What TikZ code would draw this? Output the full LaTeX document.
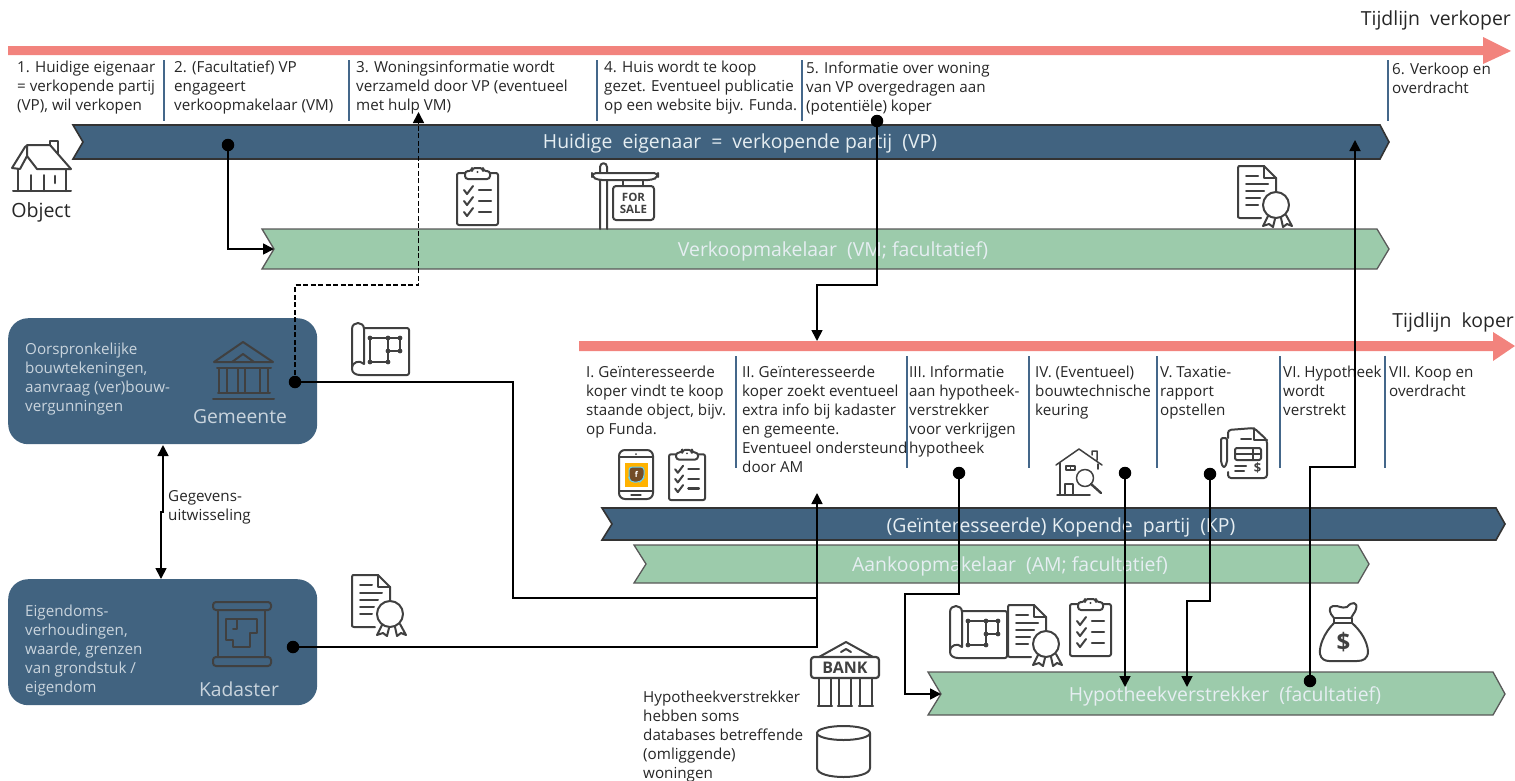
\documentclass[tikz,border=0pt]{standalone}
\usepackage{fontspec}
\setmainfont{Open Sans}
\usetikzlibrary{arrows.meta}
\definecolor{bandblue}{HTML}{416380}
\definecolor{bandgreen}{HTML}{9CCBAB}
\definecolor{salmon}{HTML}{F2837D}
\definecolor{tickblue}{HTML}{44678A}
\definecolor{ink}{HTML}{404040}
\definecolor{paletxt}{HTML}{C9D4DD}
\definecolor{bandtxt}{HTML}{E6EEF2}
\newcommand{\fs}[1]{\fontsize{#1}{19}\selectfont}
\tikzset{
  x=1pt,y=-1pt,
  lbl/.style={anchor=north west,inner sep=0pt,align=left,text=black!85,font=\fs{15.2}},
  boxtxt/.style={anchor=north west,inner sep=0pt,align=left,text=paletxt,font=\fs{15.2}},
  head/.style={anchor=center,inner sep=0pt,text=bandtxt,font=\fs{19.4}},
  orgname/.style={anchor=center,inner sep=0pt,text=paletxt,font=\fs{19.3}},
  tlname/.style={anchor=north east,inner sep=0pt,text=black!85,font=\fs{19.4}},
  orgbox/.style={anchor=north west,rectangle,rounded corners=20pt,fill=bandblue,draw=none,minimum width=309pt,minimum height=126pt,inner sep=0pt},
  tick/.style={draw=tickblue,line width=1.4pt},
  blueband/.style={fill=bandblue,draw=black!80,line width=1.6pt},
  greenband/.style={fill=bandgreen,draw=black!65,line width=1.3pt},
  conn/.style={draw=black,line width=1.7pt,-{Triangle[length=11pt,width=11pt]}},
  connplain/.style={draw=black,line width=1.7pt},
  dot/.style={circle,fill=black,inner sep=0pt,minimum size=12.5pt},
  ic/.style={draw=ink,line width=2pt,line join=round,line cap=round,fill=none},
  clipboard/.pic={
    \draw[ic,rounded corners=2pt] (8,6)--(0,6)--(0,58)--(41,58)--(41,6)--(33,6);
    \draw[ic,rounded corners=3pt] (8,4)--(15,4)--(15,1)--(26,1)--(26,4)--(33,4)--(33,12)--(8,12)--cycle;
    \fill[ink] (20.5,5) circle (1.1);
    \foreach \yy in {23,34,45}{
      \draw[ic] (7,\yy)--(10,\yy+4)--(16,\yy-4);
      \draw[ic,line width=2.4pt] (22,\yy)--(34,\yy);}
  },
  certif/.pic={
    \draw[ic] (23,52)--(2,52)..controls (0,52) and (0,51)..(0,50)--(0,2)..controls (0,0) and (1,0)..(2,0)--(26,0)--(38,12)--(38,26);
    \draw[ic] (26,0)--(26,12)--(38,12);
    \draw[ic] (8,10)--(20,10) (8,18)--(30,18) (8,25)--(26,25) (8,32)--(22,32) (8,39)--(20,39);
    \draw[ic] (38,39) circle (13);
    \draw[ic] (30,50)--(25,60)--(31,58)--(35,61)--(37,53) (43,52)--(45,61)--(49,58)--(54,60)--(48,49);
  },
  planscroll/.pic={
    \draw[ic,rounded corners=2pt] (12,5)--(57,5)--(57,52)--(8,52);
    \draw[ic] (0,46)--(0,6)..controls (0,-2) and (12,-2)..(12,6)--(12,41)..controls (8,37) and (0,38)..(0,46)..controls (0,50) and (4,52)..(8,52);
    \draw[ic] (18,15)--(18,39)--(36,39)--(36,15) (18,15)--(48,15)--(48,28)--(36,28);
    \foreach \pp in {(18,15),(36,15),(48,15),(48,28),(36,28),(36,39),(18,39)}{\fill[ink] \pp circle (2.4);}
  },
}
\begin{document}
\begin{tikzpicture}
\useasboundingbox (0,0) rectangle (1515,780);
% timelines
\fill[salmon] (8,46)--(1483,46)--(1483,37)--(1511,51)--(1483,64)--(1483,55)--(8,55)--cycle;
\fill[salmon] (579,341)--(1493,341)--(1493,332)--(1515,346)--(1493,361)--(1493,351)--(579,351)--cycle;
\node[tlname] (tlv) at (1511,11) {Tijdlijn\ \ verkoper};
\node[tlname] (tlk) at (1514,313) {Tijdlijn\ \ koper};
% ticks
\foreach \xx in {164,349,597,802,1388}{\draw[tick] (\xx,60)--(\xx,121);}
\foreach \xx in {736,907,1029,1157,1280,1385}{\draw[tick] (\xx,356)--(\xx,468);}
% seller labels
\node[lbl] (s1) at (17,61) {1. Huidige eigenaar\\= verkopende partij\\(VP), wil verkopen};
\node[lbl] (s2) at (174,61) {2. (Facultatief) VP\\engageert\\verkoopmakelaar (VM)};
\node[lbl] (s3) at (356,61) {3. Woningsinformatie wordt\\verzameld door VP (eventueel\\met hulp VM)};
\node[lbl] (s4) at (604,61) {4. Huis wordt te koop\\gezet. Eventueel publicatie\\op een website bijv. Funda.};
\node[lbl] (s5) at (806,62) {5. Informatie over woning\\van VP overgedragen aan\\(potentiële) koper};
\node[lbl] (s6) at (1392,63) {6. Verkoop en\\overdracht};
% buyer labels
\node[lbl] (b1) at (586,366) {I. Geïnteresseerde\\koper vindt te koop\\staande object, bijv.\\op Funda.};
\node[lbl] (b2) at (742,366) {II. Geïnteresseerde\\koper zoekt eventueel\\extra info bij kadaster\\en gemeente.\\Eventueel ondersteund\\door AM};
\node[lbl] (b3) at (909,366) {III. Informatie\\aan hypotheek-\\verstrekker\\voor verkrijgen\\hypotheek};
\node[lbl] (b4) at (1035,366) {IV. (Eventueel)\\bouwtechnische\\keuring};
\node[lbl] (b5) at (1160,366) {V. Taxatie-\\rapport\\opstellen};
\node[lbl] (b6) at (1283,366) {VI. Hypotheek\\wordt\\verstrekt};
\node[lbl] (b7) at (1389,366) {VII. Koop en\\overdracht};
% bands
\draw[blueband] (73,125)--(1380,125)--(1389,142)--(1380,159)--(73,159)--(83,142)--cycle;
\draw[greenband] (262,229)--(1377,229)--(1389,249)--(1377,269)--(262,269)--(274,249)--cycle;
\draw[blueband] (602,508)--(1496,508)--(1505,524)--(1496,540)--(602,540)--(612,524)--cycle;
\draw[greenband] (634,545)--(1358,545)--(1369,564)--(1358,583)--(634,583)--(646,564)--cycle;
\draw[greenband] (928,672)--(1493,672)--(1505,694)--(1493,715)--(928,715)--(941,694)--cycle;
\node[head] (tvp) at (740,143) {Huidige\ \ eigenaar\ \ =\ \ verkopende\ partij\ \ (VP)};
\node[head] (tvm) at (833,251) {Verkoopmakelaar\ \ (VM;\ facultatief)};
\node[head] (tkp) at (1061,527) {(Geïnteresseerde)\ Kopende\ \ partij\ \ (KP)};
\node[head] (tam) at (1010,566) {Aankoopmakelaar\ \ (AM;\ facultatief)};
\node[head] (thv) at (1225,696) {Hypotheekverstrekker\ \ (facultatief)};
% organisation boxes
\node[orgbox] (gem) at (8,318) {};
\node[orgbox] (kad) at (8,579) {};
\node[boxtxt] (gemt) at (25,343) {Oorspronkelijke\\bouwtekeningen,\\aanvraag (ver)bouw-\\vergunningen};
\node[boxtxt] (kadt) at (25,605) {Eigendoms-\\verhoudingen,\\waarde, grenzen\\van grondstuk /\\eigendom};
\node[orgname] (gemn) at (240,417) {Gemeente};
\node[orgname] (kadn) at (239,689) {Kadaster};
% temple icon
\begin{scope}[shift={(213,341)}]
\draw[ic,line width=2pt] (1,21)--(30,1)--(60,21)--cycle (19,21)--(30,13)--(41,21);
\draw[ic,line width=2pt] (4,27)--(58,27) (5,52)--(57,52) (0,58)--(61,58);
\foreach \xx in {6,14,25,32,47,55}{\draw[ic,line width=1.6pt] (\xx,27)--(\xx,52);}
\end{scope}
% scroll icon
\begin{scope}[shift={(213,601)}]
\draw[ic,line width=2pt,rounded corners=3pt] (0,1)--(58,1)--(58,9)--(0,9)--cycle (0,56)--(58,56)--(58,65)--(0,65)--cycle;
\draw[ic,line width=2pt] (5,9)--(5,56) (52,9)--(52,56);
\draw[ic,line width=2pt] (13,18)--(44,18)--(44,32)--(37,32)--(37,46)--(20,46)--(20,39)--(13,39)--cycle (24,18)--(24,28)--(20,28);
\end{scope}
% object
\begin{scope}[shift={(12,140)}]
\draw[ic] (0,28)--(13,7)..controls (14,5) and (16,5)..(18,5)--(38,5)--(59,29)--(54,29) (0,28)--(8,29) (8,29)--(15,16)--(25,29)--(54,29) (15,5)--(15,16);
\draw[ic] (38,5)--(38,1)--(46,1)--(46,14);
\draw[ic] (6,29)--(6,51) (54,29)--(54,51) (1,51)--(59,51) (19,35)--(19,51) (32,35)--(32,51);
\draw[ic,line width=2.6pt] (43,36)--(43,43);
\end{scope}
\node[inner sep=0pt,text=black!85,font=\fs{19.6}] (objt) at (41,212) {Object};
% clipboards
\pic at (457,167) {clipboard};
\pic[scale=.88] at (669,449) {clipboard};
\pic at (1070,598) {clipboard};
% certificates
\pic at (1238,166) {certif};
\pic at (352,575) {certif};
\pic at (1008,605) {certif};
% plans
\pic at (352,323) {planscroll};
\pic at (950,606) {planscroll};
% for sale
\begin{scope}[shift={(592,161)}]
\draw[ic] (8,68)--(8,6)..controls (8,1) and (15,1)..(15,6)--(15,68);
\draw[ic,fill=white,rounded corners=4pt] (0,12)--(66,12)--(66,16)--(60,19)--(6,19)--(0,16)--cycle;
\draw[ic] (31,19)--(31,25) (51,19)--(51,25);
\draw[ic,rounded corners=3pt] (21,25)--(62,25)--(62,59)--(21,59)--cycle;
\node[inner sep=0pt,text=ink,font=\fontsize{11.5}{12}\selectfont\bfseries,align=center] (fs) at (41.5,42) {FOR\\SALE};
\end{scope}
% phone
\begin{scope}[shift={(619,450)}]
\draw[ic,rounded corners=6pt] (0,0) rectangle (34,49);
\draw[ic,line width=1.2pt] (0,7)--(34,7) (0,41)--(34,41);
\fill[ink] (17,4) circle (1);
\draw[ic,line width=1.2pt] (12,45)--(22,45);
\fill[orange!60!yellow] (6,13) rectangle (29,37);
\draw[fill=brown!60!black,draw=cyan!60!white,line width=1pt,rounded corners=3pt] (10,17)--(25,17)--(25,28)--(21,32)--(12,32)--(10,28)--cycle;
\node[inner sep=0pt,text=white,font=\fontsize{8}{9}\selectfont\bfseries] (ff) at (17.5,24.5) {f};
\end{scope}
% house with magnifier
\begin{scope}[shift={(1056,449)}]
\draw[ic,line width=1.5pt] (0,16)--(23,0)--(46,16) (36,6)--(36,2)--(41,2)--(41,11);
\draw[ic,line width=1.5pt] (4,14)--(4,46) (1,46)--(34,46) (9,35) rectangle (17,46) (10,17) rectangle (19,21) (14.5,17)--(14.5,21) (42,15)--(42,20);
\draw[ic,line width=1.5pt] (29,29) circle (8.5);
\draw[ic,line width=2.4pt] (35,35)--(45,44);
\end{scope}
% invoice
\begin{scope}[shift={(1220,428)}]
\draw[ic,rounded corners=3pt] (8,10)--(8,2)--(34,0)--(47,12)--(47,50)--(8,50)--(8,44);
\draw[ic] (34,0)--(34,12)--(47,12) (21,11)--(31,11);
\draw[ic,rounded corners=2pt] (15,20) rectangle (41,32);
\draw[ic] (15,26)--(41,26) (33,20)--(33,32);
\draw[ic] (15,38)--(26,38) (15,43)--(24,43);
\draw[ic,rounded corners=2pt] (1,14)--(1,10)--(7,10)--(7,35)--(4,40)--(1,35)--cycle;
\node[inner sep=0pt,text=ink,font=\fontsize{13}{13}\selectfont\bfseries] (dol) at (37.5,40) {\$};
\end{scope}
% bank
\begin{scope}[shift={(811,642)}]
\draw[ic] (8,15)--(35,0)--(62,15) (30,10)--(35,7)--(40,10);
\draw[ic,line width=2.2pt,rounded corners=3pt] (0,15) rectangle (68,36);
\node[inner sep=0pt,text=ink,font=\fontsize{16}{16}\selectfont\bfseries] (bnk) at (34,25.5) {BANK};
\foreach \xx in {8,28,49}{\draw[ic,line width=2.2pt] (\xx,36)--(\xx,64)--(\xx+12,64)--(\xx+12,36) (\xx-1,64)--(\xx+13,64);}
\end{scope}
\node[lbl] (dbt) at (643,691) {Hypotheekverstrekker\\hebben soms\\databases betreffende\\(omliggende)\\woningen};
% database
\draw[ic] (817,733)--(817,768)..controls (817,780) and (870,780)..(870,768)--(870,733);
\draw[ic] (843.5,733) ellipse (26.5 and 7);
% money bag
\begin{scope}[shift={(1319,601)}]
\draw[ic] (15,17)..controls (10,12) and (9,6)..(14,5)..controls (20,4) and (22,8)..(28,6)..controls (33,0) and (39,1)..(37,8)..controls (36,12) and (33,14)..(32,17);
\draw[ic] (15,17)--(15,22)--(33,22)--(33,17)--cycle;
\draw[ic] (15,22)..controls (5,32) and (0,45)..(1,53)..controls (2,58) and (6,60)..(10,60)--(38,60)..controls (44,60) and (49,58)..(49,50)..controls (48,40) and (42,30)..(33,22);
\node[inner sep=0pt,text=ink,font=\fontsize{24}{24}\selectfont\bfseries] (mon) at (24.5,41) {\$};
\end{scope}
% gegevens
\node[lbl] (geg) at (168,490) {Gegevens-\\uitwisseling};
% connectors
\node[dot] (d1) at (228,145) {};
\node[dot] (d2) at (295,382) {};
\node[dot] (d3) at (877,121) {};
\node[dot] (d4) at (293,647) {};
\node[dot] (d5) at (959,473) {};
\node[dot] (d6) at (1125,473) {};
\node[dot] (d7) at (1210,474) {};
\node[dot] (d8) at (1310,681) {};
\coordinate (e1) at (274,249);
\coordinate (e2) at (418.5,112);
\coordinate (e3) at (817,341);
\coordinate (e4) at (817,493);
\coordinate (e5) at (941,694);
\coordinate (e6) at (1125,687);
\coordinate (e7) at (1187,687);
\coordinate (e8) at (1355,140);
\coordinate (ga) at (163,445);
\coordinate (gb) at (161,579);
\draw[conn] (d1.center)--(228,249)--(e1);
\draw[conn,dash pattern=on 5pt off 2.5pt] (d2.center)--(295,285)--(418.5,285)--(e2);
\draw[conn] (d3.center)--(877,285)--(817,285)--(e3);
\draw[conn] (d2.center)--(513,382)--(513,598)--(817,598)--(e4);
\draw[connplain] (d4.center)--(817,647)--(817,598);
\draw[conn] (d5.center)--(959,594)--(905,594)--(905,694)--(e5);
\draw[conn] (d6.center)--(e6);
\draw[conn] (d7.center)--(1210,601)--(1187,601)--(e7);
\draw[conn] (d8.center)--(1310,467)--(1355,467)--(e8);
\draw[draw=black,line width=1.7pt,{Triangle[length=11pt,width=11pt]}-{Triangle[length=11pt,width=11pt]}] (ga)--(163,512)--(161,512)--(gb);
\end{tikzpicture}
\end{document}
